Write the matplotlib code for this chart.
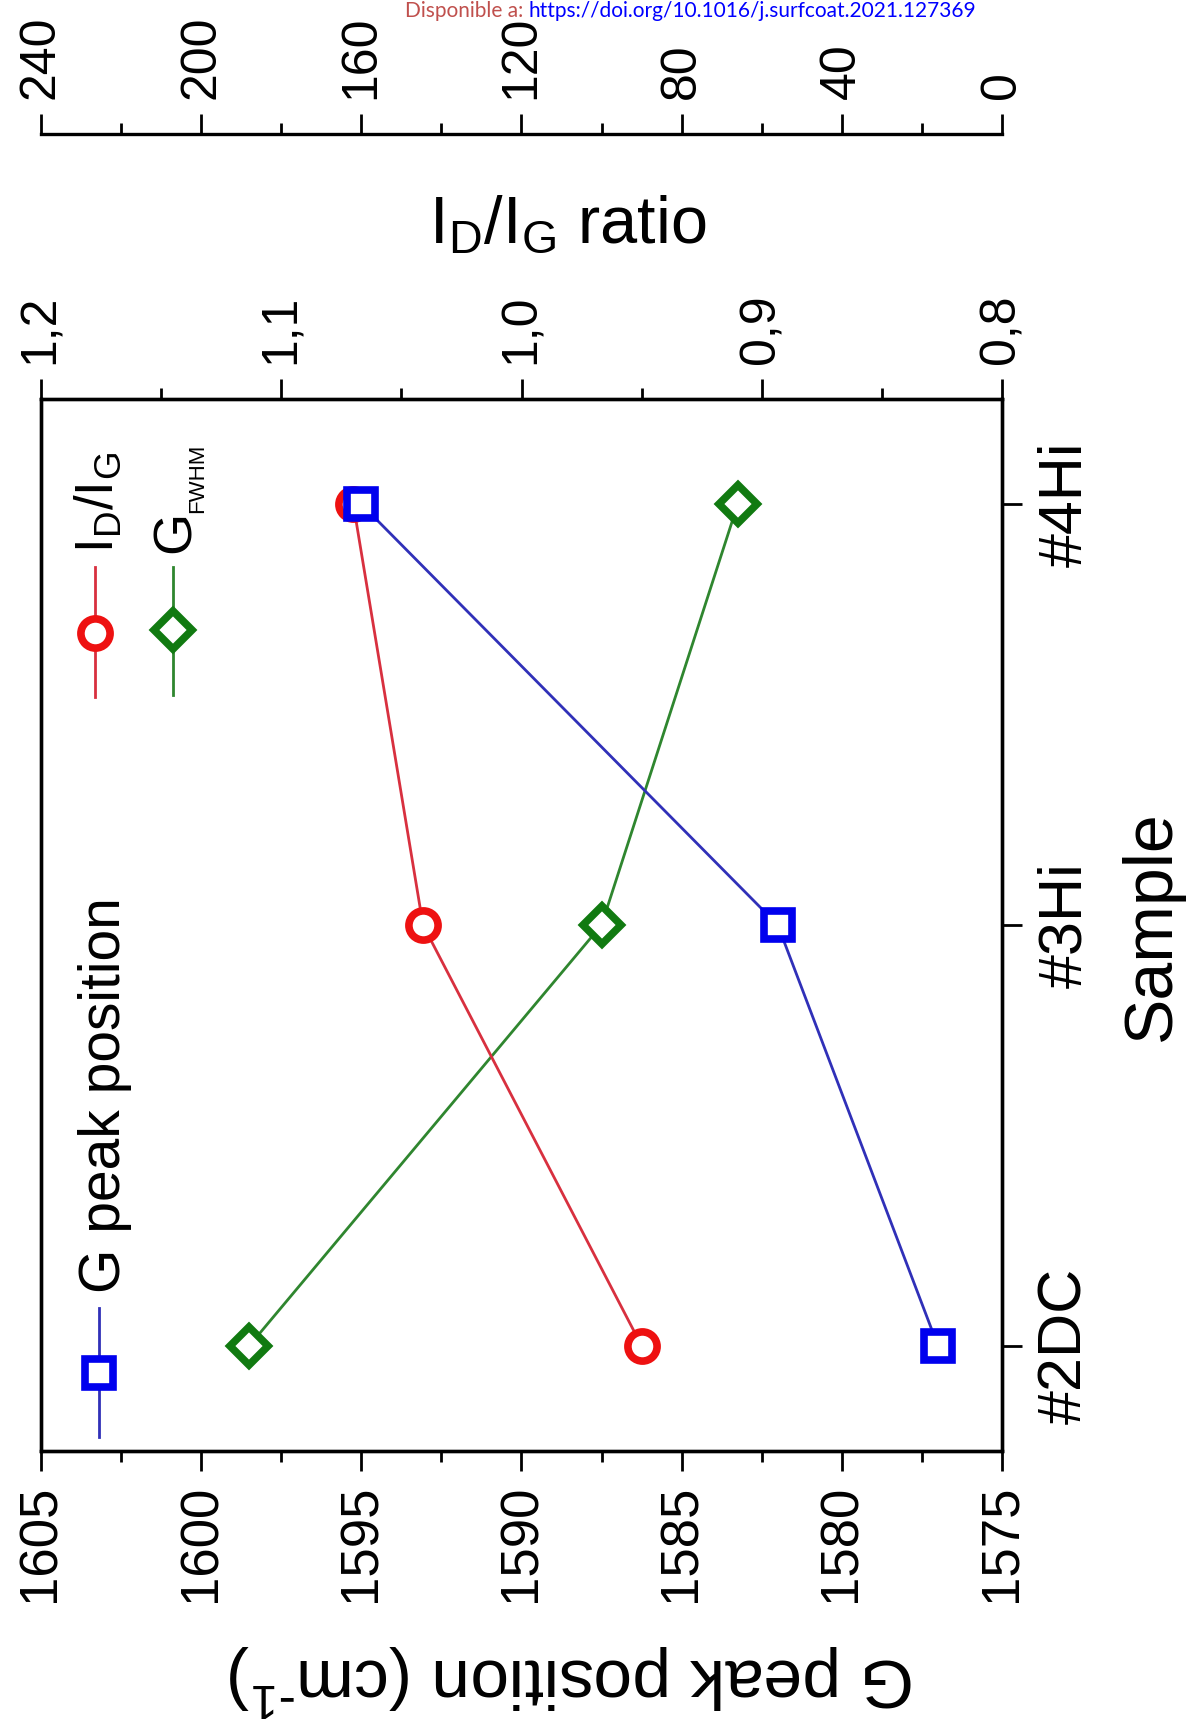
import matplotlib
matplotlib.use('Agg')
import matplotlib.pyplot as plt
from matplotlib.ticker import MultipleLocator, FuncFormatter
from matplotlib.markers import MarkerStyle

plt.rcParams['font.family'] = ['Liberation Sans', 'DejaVu Sans']
plt.rcParams['mathtext.default'] = 'regular'

# data
samples = ['#2DC', '#3Hi', '#4Hi']
g_peak = [1577.0, 1582.0, 1595.0]      # cm-1
id_ig = [0.950, 1.041, 1.070]
g_fwhm = [188, 100, 66]

blue_m, blue_l = '#0000ee', '#3030b8'
red_m, red_l = '#ee1111', '#d8303f'
green_m, green_l = '#117a11', '#2f862f'

W, H = 1192, 1729
fig = plt.figure(figsize=(W/100, H/100), dpi=100)
# the whole chart is drawn turned by 90 degrees
ax = fig.add_axes([41/W, 1-1451/H, 961/W, 1052/H])
pos = list(range(len(samples)))

ax2 = ax.twiny()
ax3 = ax.twiny()
ax3.set_zorder(1)
ax2.set_zorder(2)
ax.set_zorder(3)
ax.patch.set_visible(False)

ax.set_xlim(1605, 1575)
ax.set_ylim(-0.25, 2.25)
ax2.set_xlim(1.2, 0.8)
ax3.set_xlim(240, 0)

ax3.spines['top'].set_position(('outward', 190.8))
for s in ['left', 'right', 'bottom']:
    ax3.spines[s].set_visible(False)
for a in (ax, ax2, ax3):
    for s in a.spines.values():
        s.set_linewidth(2.4)

def mk(m):
    return MarkerStyle(m, joinstyle='miter')

ax3.plot(g_fwhm, pos, color=green_l, lw=2, marker=mk('D'), ms=19,
         mfc='white', mec=green_m, mew=5.5)
ax2.plot(id_ig, pos, color=red_l, lw=2, marker=mk('o'), ms=21,
         mfc='white', mec=red_m, mew=5.5)
ax.plot(g_peak, pos, color=blue_l, lw=2, marker=mk('s'), ms=20,
        mfc='white', mec=blue_m, mew=5.5)

# bottom axis: G peak position
ax.xaxis.set_major_locator(MultipleLocator(5))
ax.xaxis.set_minor_locator(MultipleLocator(2.5))
ax.tick_params(axis='x', which='major', direction='out', length=14.4, width=2,
               pad=10, labelsize=38, labelrotation=90)
ax.tick_params(axis='x', which='minor', direction='out', length=8, width=2)

# right axis: samples
ax.yaxis.tick_right()
ax.set_yticks(pos, samples)
ax.tick_params(axis='y', direction='out', length=14.4, width=2, pad=11,
               labelsize=44, labelrotation=90)
for lbl in ax.get_yticklabels():
    lbl.set_va('center')

# top axis: ID/IG ratio
ax2.xaxis.set_major_locator(MultipleLocator(0.1))
ax2.xaxis.set_minor_locator(MultipleLocator(0.05))
ax2.xaxis.set_major_formatter(FuncFormatter(lambda v, p: f'{v:.1f}'.replace('.', ',')))
ax2.tick_params(axis='x', which='major', direction='out', length=14.4, width=2,
                pad=11, labelsize=36, labelrotation=90)
ax2.tick_params(axis='x', which='minor', direction='out', length=8, width=2)

# outer top axis: G FWHM
ax3.xaxis.set_major_locator(MultipleLocator(40))
ax3.xaxis.set_minor_locator(MultipleLocator(20))
ax3.tick_params(axis='x', which='major', direction='out', length=14.4, width=2,
                pad=11, labelsize=36, labelrotation=90)
ax3.tick_params(axis='x', which='minor', direction='out', length=8, width=2)

t = ax.transAxes
ax.text(1.156, 0.499, 'Sample', transform=t, rotation=90, ha='center',
        va='center', fontsize=49)
ax.text(0.548, 1.1483, r'I$_{D}$/I$_{G}$ ratio', transform=t, ha='center',
        va='baseline', fontsize=48)
ax.text(0.5526, -0.2177, r'G peak position (cm$^{\text{-}1}$)', transform=t,
        rotation=180, ha='center', va='center', fontsize=50)

# legend (turned as well)
ax.plot([0.0604, 0.0604], [0.1359, 0.0133], transform=t, color=blue_l, lw=2)
ax.plot([0.0604], [0.0741], transform=t, marker=mk('s'), ms=20, mfc='white',
        mec=blue_m, mew=5.5)
ax.text(0.0822, 0.1502, 'G peak position', transform=t, rotation=90,
        rotation_mode='anchor', ha='left', va='baseline', fontsize=41)

ax.plot([0.0562, 0.0562], [0.8403, 0.7167], transform=t, color=red_l, lw=2)
ax.plot([0.0562], [0.7776], transform=t, marker=mk('o'), ms=21, mfc='white',
        mec=red_m, mew=5.5)
ax.text(0.0749, 0.8536, r'I$_{D}$/I$_{G}$', transform=t, rotation=90,
        rotation_mode='anchor', ha='left', va='baseline', fontsize=38)

ax.plot([0.1374, 0.1374], [0.8403, 0.7186], transform=t, color=green_l, lw=2)
ax.plot([0.1374], [0.7804], transform=t, marker=mk('D'), ms=19, mfc='white',
        mec=green_m, mew=5.5)
ax.text(0.155, 0.8536, 'G', transform=t, rotation=90,
        rotation_mode='anchor', ha='left', va='baseline', fontsize=39)
ax.text(0.1686, 0.8916, 'FWHM', transform=t, rotation=90,
        rotation_mode='anchor', ha='left', va='baseline', fontsize=16)

# source note at the very top
fig.text(523/W, 1-17/H, 'Disponible a:', color='#c0504d', ha='right',
         va='baseline', fontsize=15, family=['Lato', 'DejaVu Sans'])
fig.text(529/W, 1-17/H, 'https://doi.org/10.1016/j.surfcoat.2021.127369',
         color='#0000ff', ha='left', va='baseline', fontsize=15,
         family=['Lato', 'DejaVu Sans'])

fig.savefig('out.png', dpi=100)
